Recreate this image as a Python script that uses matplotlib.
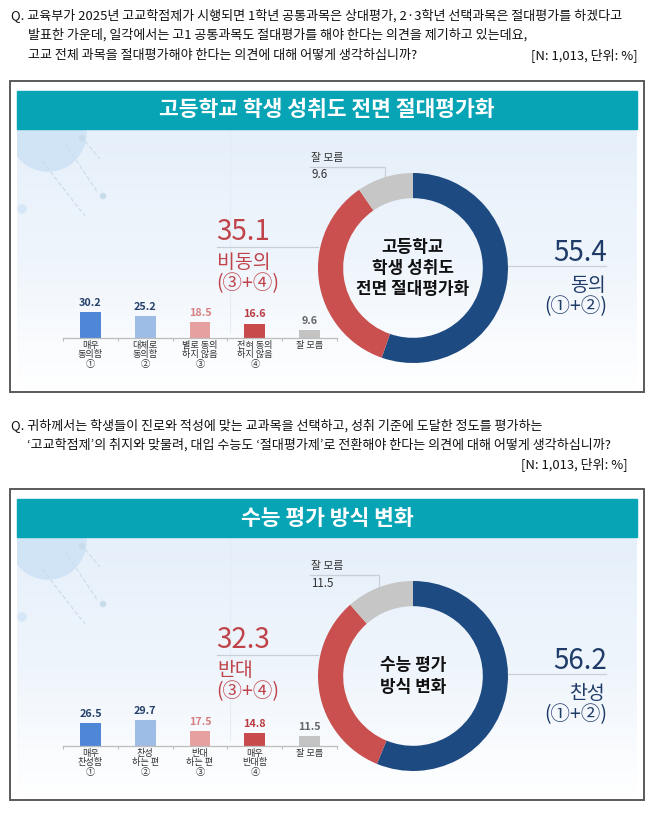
import numpy as np
import matplotlib
matplotlib.use("Agg")
import matplotlib.pyplot as plt
from matplotlib.patches import Rectangle, Circle
from matplotlib.colors import LinearSegmentedColormap

plt.rcParams['font.family'] = ['Noto Sans CJK KR', 'DejaVu Sans']

# ---------------- data ----------------
q1_lines = [
    "Q. 교육부가 2025년 고교학점제가 시행되면 1학년 공통과목은 상대평가, 2·3학년 선택과목은 절대평가를 하겠다고",
    "발표한 가운데, 일각에서는 고1 공통과목도 절대평가를 해야 한다는 의견을 제기하고 있는데요,",
    "고교 전체 과목을 절대평가해야 한다는 의견에 대해 어떻게 생각하십니까?",
]
q2_lines = [
    "Q. 귀하께서는 학생들이 진로와 적성에 맞는 교과목을 선택하고, 성취 기준에 도달한 정도를 평가하는",
    "‘고교학점제’의 취지와 맞물려, 대입 수능도 ‘절대평가제’로 전환해야 한다는 의견에 대해 어떻게 생각하십니까?",
]
note = "[N: 1,013, 단위: %]"

title1 = "고등학교 학생 성취도 전면 절대평가화"
center1 = "고등학교\n학생 성취도\n전면 절대평가화"
bar_cats1 = ["매우\n동의함\n①", "대체로\n동의함\n②", "별로 동의\n하지 않음\n③", "전혀 동의\n하지 않음\n④", "잘 모름"]
bar_vals1 = [30.2, 25.2, 18.5, 16.6, 9.6]
donut_labels1 = ["동의", "비동의", "잘 모름"]
donut_vals1 = [55.4, 35.1, 9.6]

title2 = "수능 평가 방식 변화"
center2 = "수능 평가\n방식 변화"
bar_cats2 = ["매우\n찬성함\n①", "찬성\n하는 편\n②", "반대\n하는 편\n③", "매우\n반대함\n④", "잘 모름"]
bar_vals2 = [26.5, 29.7, 17.5, 14.8, 11.5]
donut_labels2 = ["찬성", "반대", "잘 모름"]
donut_vals2 = [56.2, 32.3, 11.5]

# ---------------- style ----------------
W, H = 658, 813
NAVY = "#1e4a82"
NAVY_T = "#1f3c68"
RED = "#c9504f"
RED_T = "#c0434a"
GREY = "#c6c6c6"
TEAL = "#07a4b5"
bar_colors = ["#4f86d6", "#9dbce6", "#e6a0a0", "#c94a4a", "#c3c3c3"]
val_colors = ["#23406a", "#23406a", "#d77f80", "#b93b3f", "#666666"]
donut_colors = [NAVY, RED, GREY]

fig = plt.figure(figsize=(W / 100, H / 100), dpi=100)
bg = fig.add_axes([0, 0, 1, 1], zorder=0)
bg.set_xlim(0, W)
bg.set_ylim(H, 0)
bg.axis("off")


def fx(x):
    return x / W


def fy(y):
    return 1 - y / H


grad = LinearSegmentedColormap.from_list("g", ["#e6f0fa", "#eff5fc", "#ffffff"])


def panel(top, q_lines, q_y, note_xy, title, center_text, cats, vals, dlabels, dvals,
          first_indent, qsize):
    # question text
    for i, (ln, yy) in enumerate(zip(q_lines, q_y)):
        x = 11 if i == 0 else first_indent
        bg.text(x, yy, ln, fontsize=qsize, va="center", ha="left", color="#111111")
    bg.text(note_xy[0], note_xy[1], note, fontsize=qsize, va="center", ha="right", color="#111111")

    # frame
    bot = top + 311
    bg.add_patch(Rectangle((10, top), 634, bot - top, fill=False, ec="#5a5a5a", lw=1.4, zorder=5))
    # gradient background
    g = np.linspace(0, 1, 200).reshape(-1, 1)
    bg.imshow(g, cmap=grad, aspect="auto", extent=[17, 637, bot - 2, top + 48], zorder=1)
    # decorative elements
    circ = Circle((48, top + 52), 38, color="#cfe3f6", alpha=0.9, zorder=2)
    bg.add_patch(circ)
    circ.set_clip_path(Rectangle((17, top + 48), 620, 260, transform=bg.transData))
    bg.add_patch(Circle((22, top + 128), 4, color="#d6e8f7", zorder=2))
    for (x0, y0, x1, y1) in [(65, top + 62, 98, top + 112), (42, top + 80, 85, top + 135),
                             (85, top + 60, 100, top + 78)]:
        bg.plot([x0, x1], [y0, y1], color="#c9dceb", lw=0.8, ls=(0, (4, 2)), zorder=2)
    bg.add_patch(Circle((103, top + 115), 2.5, color="#c9dceb", zorder=2))
    bg.add_patch(Circle((82, top + 57), 2.5, color="#c9dceb", zorder=2))
    bg.plot([230, 230], [top + 48, bot - 60], color="#e4edf6", lw=0.8, zorder=2)

    # header
    bg.add_patch(Rectangle((17, top + 10), 620, 38, color=TEAL, zorder=3))
    bg.text(327, top + 29, title, fontsize=15.5, fontweight="bold", color="white",
            ha="center", va="center", zorder=4)

    # donut
    cx, cy, r = 413, top + 187, 95
    dax = fig.add_axes([fx(cx - r), fy(cy + r), 2 * r / W, 2 * r / H], zorder=3)
    wedges, _ = dax.pie(dvals, colors=donut_colors, startangle=90, counterclock=False,
                        radius=1, wedgeprops=dict(width=0.265, linewidth=0))
    dax.set_xlim(-1, 1)
    dax.set_ylim(-1, 1)
    dax.set_aspect("auto")
    dax.axis("off")
    dax.text(0, 0, center_text, ha="center", va="center", fontsize=12.2, fontweight="bold",
             color="#111111", linespacing=1.25)

    # '잘 모름' callout, pointing to middle of grey wedge
    wg = wedges[2]
    mid = np.deg2rad((wg.theta1 + wg.theta2) / 2)
    ex, ey = cx + r * np.cos(mid), cy - r * np.sin(mid)
    ly = top + 86
    bg.plot([310, ex, ex], [ly, ly, ey], color="#c8cfd6", lw=0.9, zorder=2)
    bg.text(311, ly - 9, dlabels[2], fontsize=7.8, color="#333333", ha="left", va="center", zorder=4)
    bg.text(311, ly + 8, f"{dvals[2]:.1f}", fontsize=8.4, color="#333333", ha="left", va="center", zorder=4)

    # left (disagree) label
    ly2 = top + 166
    bg.plot([217, cx - r], [ly2, ly2], color="#c8cfd6", lw=0.9, zorder=2)
    bg.text(216, ly2 - 15, f"{dvals[1]:.1f}", fontsize=20, color=RED_T, ha="left", va="center",
            fontweight="light", zorder=4)
    bg.text(217, ly2 + 15, dlabels[1], fontsize=14, color=RED_T, ha="left", va="center", zorder=4)
    bg.text(216, ly2 + 37, "(③+④)", fontsize=14, color=RED_T, ha="left", va="center", zorder=4)

    # right (agree) label
    ry = top + 185
    bg.plot([cx + r, 606], [ry, ry], color="#c8cfd6", lw=0.9, zorder=2)
    bg.text(607, ry - 13, f"{dvals[0]:.1f}", fontsize=20, color=NAVY_T, ha="right", va="center",
            fontweight="light", zorder=4)
    bg.text(606, ry + 19, dlabels[0], fontsize=14, color=NAVY_T, ha="right", va="center", zorder=4)
    bg.text(607, ry + 41, "(①+②)", fontsize=14, color=NAVY_T, ha="right", va="center", zorder=4)

    # bars
    base = top + 257
    x0, x1 = 63, 337
    ppu = 0.865  # px per percent
    hpx = 40
    bax = fig.add_axes([fx(x0), fy(base), (x1 - x0) / W, hpx / H], zorder=3)
    bax.patch.set_alpha(0)
    xs = np.arange(len(vals))
    bars = bax.bar(xs, vals, width=0.38, color=bar_colors)
    bax.set_xlim(-0.5, len(vals) - 0.5)
    bax.set_ylim(0, hpx / ppu)
    for s in ["top", "right", "left"]:
        bax.spines[s].set_visible(False)
    bax.spines["bottom"].set_color("#bdbdbd")
    bax.spines["bottom"].set_linewidth(0.9)
    bax.set_yticks([])
    bax.set_xticks(xs)
    bax.set_xticklabels(cats, fontsize=6.6, color="#333333", linespacing=1.08)
    bax.tick_params(axis="x", which="major", length=0, pad=2)
    bax.set_xticks(np.arange(-0.5, len(vals)), minor=True)
    bax.tick_params(axis="x", which="minor", length=2.5, color="#bdbdbd", width=0.8)
    for b, v, c in zip(bars, vals, val_colors):
        bax.annotate(f"{v:.1f}", (b.get_x() + b.get_width() / 2, v), xytext=(0, 3),
                     textcoords="offset points", ha="center", va="bottom", fontsize=7.8,
                     fontweight="bold", color=c)


panel(81, q1_lines, [15, 35, 55], (638, 55), title1, center1, bar_cats1, bar_vals1,
      donut_labels1, donut_vals1, first_indent=28, qsize=9.4)
panel(489, q2_lines, [425, 445], (628, 464), title2, center2, bar_cats2, bar_vals2,
      donut_labels2, donut_vals2, first_indent=27, qsize=9.4)

fig.savefig("out.png", dpi=100)
